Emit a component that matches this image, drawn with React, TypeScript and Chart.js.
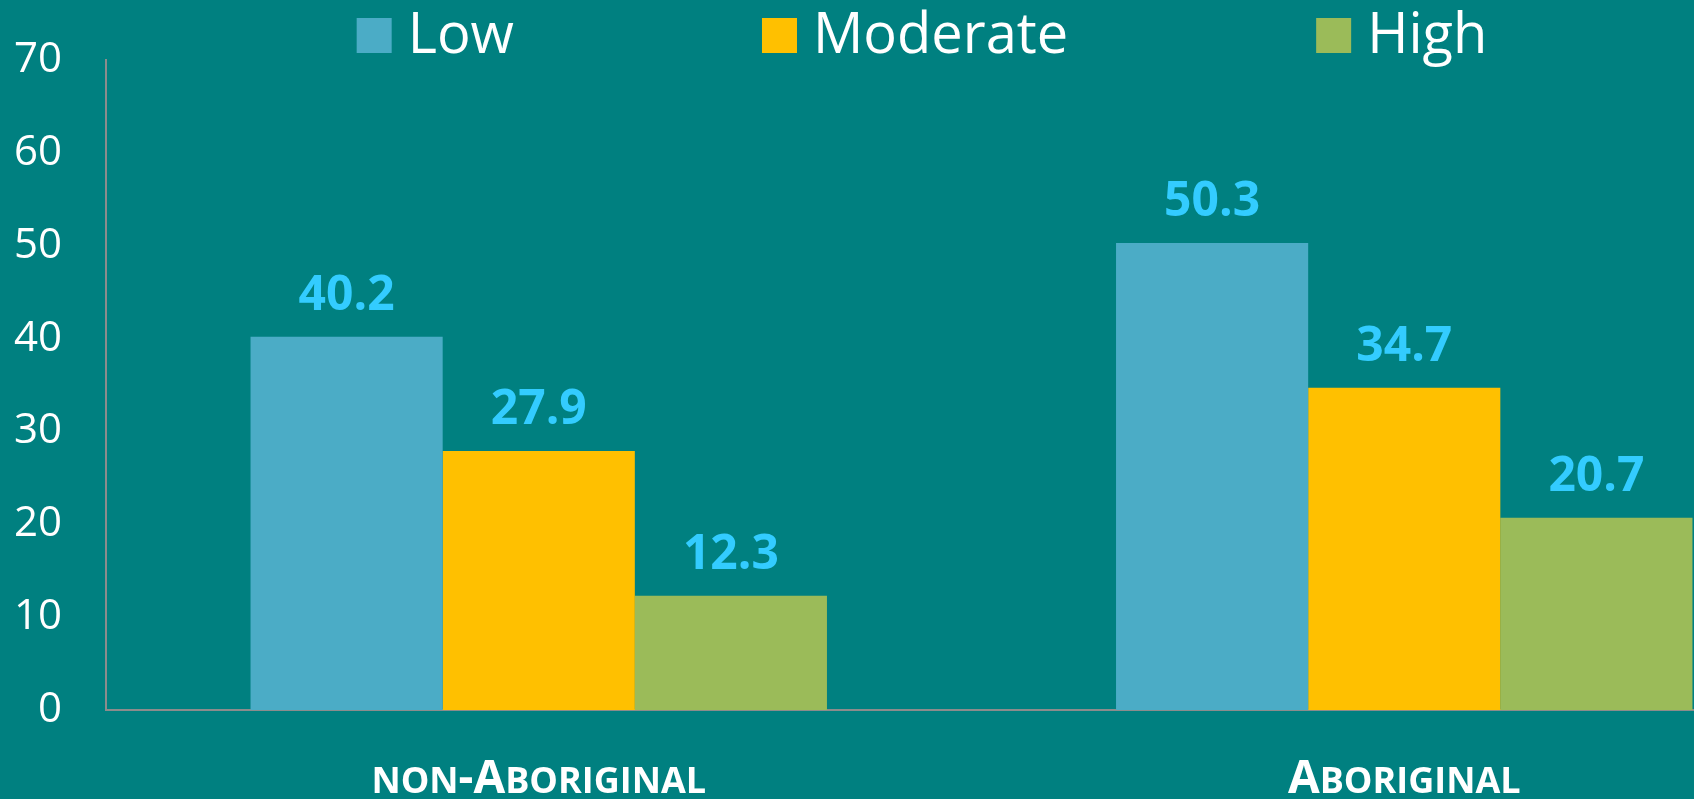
import React, { useEffect, useRef } from "react";
import { Chart, registerables } from "chart.js";

Chart.register(...registerables);

const categories = ["non-Aboriginal", "Aboriginal"];
const seriesNames = ["Low", "Moderate", "High"];
const lowValues = [40.2, 50.3];
const moderateValues = [27.9, 34.7];
const highValues = [12.3, 20.7];
const yTickValues = [0, 10, 20, 30, 40, 50, 60, 70];
const seriesColors = ["#4BACC6", "#FFC000", "#9BBB59"];

const BG = "#008080";
const AXIS = "#8C8C8C";
const LABEL_COLOR = "#33CCFF";
const FONT = '"Open Sans", "DejaVu Sans", sans-serif';

const legendPlugin = {
  id: "topLegend",
  afterDraw(chart: any) {
    const ctx = chart.ctx as CanvasRenderingContext2D;
    ctx.save();
    ctx.font = `56px ${FONT}`;
    const box = 35;
    const textGap = 16;
    const itemGap = 248;
    const items = chart.data.datasets.map((d: any) => ({
      label: d.label as string,
      color: d.backgroundColor as string,
      w: ctx.measureText(d.label).width,
    }));
    const total =
      items.reduce((s: number, it: any) => s + box + textGap + it.w, 0) +
      itemGap * (items.length - 1);
    let x = chart.width / 2 - total / 2 + 2;
    const baseline = 53;
    items.forEach((it: any) => {
      ctx.fillStyle = it.color;
      ctx.fillRect(x, baseline - box, box, box);
      ctx.fillStyle = "#FFFFFF";
      ctx.textAlign = "left";
      ctx.textBaseline = "alphabetic";
      ctx.fillText(it.label, x + box + textGap, baseline);
      x += box + textGap + it.w + itemGap;
    });
    ctx.restore();
  },
};

const valueLabelPlugin = {
  id: "valueLabels",
  afterDatasetsDraw(chart: any) {
    const ctx = chart.ctx as CanvasRenderingContext2D;
    ctx.save();
    ctx.font = `bold 48px ${FONT}`;
    ctx.fillStyle = LABEL_COLOR;
    ctx.textAlign = "center";
    ctx.textBaseline = "alphabetic";
    chart.data.datasets.forEach((ds: any, di: number) => {
      const meta = chart.getDatasetMeta(di);
      meta.data.forEach((el: any, i: number) => {
        const v = ds.data[i];
        ctx.fillText(v.toFixed(1), el.x, el.y - 27);
      });
    });
    ctx.restore();
  },
};

const smallCapsLabelPlugin = {
  id: "smallCapsLabels",
  afterDraw(chart: any) {
    const ctx = chart.ctx as CanvasRenderingContext2D;
    const xs = chart.scales.x;
    const big = 46;
    const small = 36;
    const baseline = 793;
    ctx.save();
    ctx.fillStyle = "#FFFFFF";
    ctx.textAlign = "left";
    ctx.textBaseline = "alphabetic";
    (chart.data.labels as string[]).forEach((label, i) => {
      const cx = xs.getPixelForValue(i);
      const parts = Array.from(label).map((ch) => {
        const isSmall = ch !== ch.toUpperCase();
        const size = isSmall ? small : big;
        ctx.font = `bold ${size}px ${FONT}`;
        const t = ch.toUpperCase();
        return { t, size, w: ctx.measureText(t).width };
      });
      const total = parts.reduce((s, p) => s + p.w, 0);
      let x = cx - total / 2;
      parts.forEach((p) => {
        ctx.font = `bold ${p.size}px ${FONT}`;
        ctx.fillText(p.t, x, baseline);
        x += p.w;
      });
    });
    ctx.restore();
  },
};

export default function App() {
  const canvasRef = useRef<HTMLCanvasElement | null>(null);

  useEffect(() => {
    document.body.style.margin = "0";
    document.body.style.overflow = "hidden";
    document.body.style.background = BG;
    const canvas = canvasRef.current;
    if (!canvas) return;
    const valueSets = [lowValues, moderateValues, highValues];
    const chart = new Chart(canvas, {
      type: "bar",
      data: {
        labels: categories,
        datasets: seriesNames.map((name, i) => ({
          label: name,
          data: valueSets[i],
          backgroundColor: seriesColors[i],
          borderWidth: 0,
          categoryPercentage: 0.666,
          barPercentage: 1,
        })),
      },
      options: {
        responsive: false,
        animation: false,
        devicePixelRatio: 1,
        layout: { padding: { top: 60, left: 0, right: 3, bottom: 0 } },
        plugins: {
          legend: { display: false },
          tooltip: { enabled: false },
        },
        scales: {
          x: {
            grid: { display: false, drawTicks: false },
            ticks: { display: false },
            border: { display: true, color: AXIS, width: 2 },
            afterFit: (s: any) => {
              s.height = 89;
              s.paddingLeft = 0;
              s.paddingRight = 0;
            },
          },
          y: {
            min: 0,
            max: 70,
            grid: { display: false, drawTicks: false },
            border: { display: true, color: AXIS, width: 2 },
            afterBuildTicks: (s: any) => {
              s.ticks = yTickValues.map((v) => ({ value: v }));
            },
            ticks: {
              color: "#FFFFFF",
              padding: 44,
              font: { family: FONT, size: 42 },
            },
            afterFit: (s: any) => {
              s.width = 106;
              s.paddingTop = 0;
              s.paddingBottom = 0;
            },
          },
        },
      },
      plugins: [legendPlugin, valueLabelPlugin, smallCapsLabelPlugin],
    });
    return () => chart.destroy();
  }, []);

  return (
    <div
      style={{
        width: 1694,
        height: 799,
        overflow: "hidden",
        background: BG,
        position: "relative",
      }}
    >
      <canvas
        ref={canvasRef}
        width={1840}
        height={799}
        style={{ display: "block", width: 1840, height: 799 }}
      />
    </div>
  );
}
